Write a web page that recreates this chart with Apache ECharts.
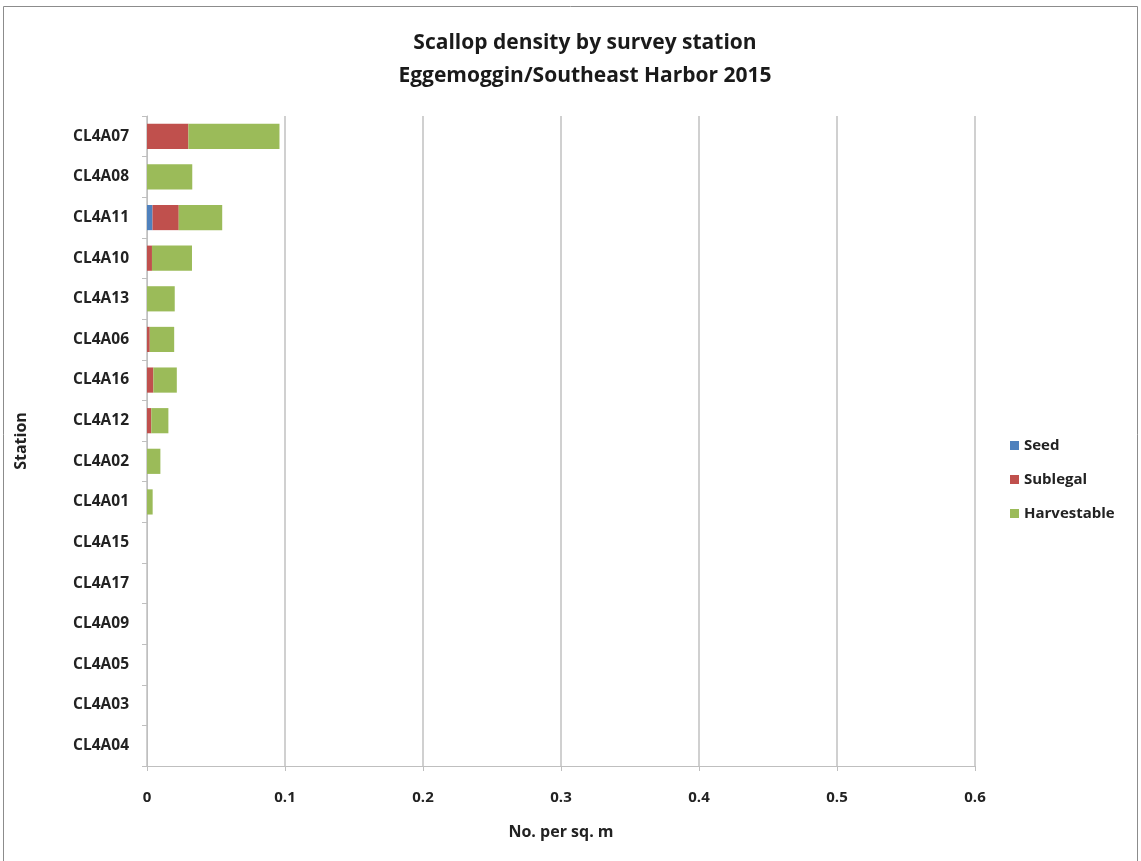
<!DOCTYPE html>
<html><head><meta charset="utf-8">
<script src="https://cdn.jsdelivr.net/npm/echarts@6/dist/echarts.min.js"></script>
<style>html,body{margin:0;padding:0;background:#fff}#c{width:1141px;height:861px}</style>
</head><body><div id="c"></div>
<script>
const stations = ['CL4A07','CL4A08','CL4A11','CL4A10','CL4A13','CL4A06','CL4A16','CL4A12','CL4A02','CL4A01','CL4A15','CL4A17','CL4A09','CL4A05','CL4A03','CL4A04'];
const seed =        [0,     0,      0.004, 0,      0,      0,      0,      0,      0,      0,      0,0,0,0,0,0];
const sublegal =    [0.030, 0,      0.019, 0.0036, 0,      0.002,  0.0046, 0.0031, 0,      0,      0,0,0,0,0,0];
const harvestable = [0.066, 0.0328, 0.0315,0.029,  0.0201, 0.0177, 0.017,  0.0124, 0.0097, 0.0041, 0,0,0,0,0,0];
const xTicks = [0, 0.1, 0.2, 0.3, 0.4, 0.5, 0.6];

const font = 'Open Sans';
const chart = echarts.init(document.getElementById('c'));
chart.setOption({
  animation: false,
  backgroundColor: '#fff',
  textStyle: { fontFamily: font },
  title: {
    text: 'Scallop density by survey station\nEggemoggin/Southeast Harbor 2015',
    left: 580, top: 22, textAlign: 'center',
    textStyle: { fontFamily: font, fontSize: 21, fontWeight: 'bold', color: '#1a1a1a', lineHeight: 33 }
  },
  legend: {
    orient: 'vertical', left: 1005, top: 433, itemGap: 19,
    itemWidth: 9, itemHeight: 9, icon: 'rect',
    textStyle: { fontFamily: font, fontSize: 15, fontWeight: 'bold', color: '#222' },
    data: ['Seed', 'Sublegal', 'Harvestable']
  },
  grid: { left: 147, right: 166, top: 116, bottom: 95, containLabel: false },
  xAxis: {
    type: 'value', min: 0, max: 0.6, interval: 0.1,
    name: 'No. per sq. m', nameLocation: 'middle', nameGap: 58,
    nameTextStyle: { fontFamily: font, fontSize: 16, fontWeight: 'bold', color: '#222' },
    axisLine: { show: true, lineStyle: { color: '#bfbfbf', width: 1 } },
    axisTick: { show: true, length: 5, lineStyle: { color: '#bfbfbf' } },
    axisLabel: { fontFamily: font, fontSize: 15, fontWeight: 'bold', color: '#222', margin: 24,
      formatter: v => xTicks.includes(Math.round(v*10)/10) ? String(Math.round(v*10)/10) : '' },
    splitLine: { show: true, lineStyle: { color: '#d0d0d0', width: 2 } }
  },
  yAxis: {
    type: 'category', data: stations, inverse: true,
    name: 'Station', nameLocation: 'middle', nameGap: 118, nameRotate: 90,
    nameTextStyle: { fontFamily: font, fontSize: 16, fontWeight: 'bold', color: '#222' },
    axisLine: { show: true, lineStyle: { color: '#bfbfbf', width: 1 } },
    axisTick: { show: true, length: 5, lineStyle: { color: '#bfbfbf' } },
    axisLabel: { fontFamily: font, fontSize: 15.5, fontWeight: 'bold', color: '#222', margin: 18 }
  },
  series: [
    { name: 'Seed', type: 'bar', stack: 's', data: seed, barCategoryGap: '38%', itemStyle: { color: '#4f81bd' } },
    { name: 'Sublegal', type: 'bar', stack: 's', data: sublegal, itemStyle: { color: '#c0504d' } },
    { name: 'Harvestable', type: 'bar', stack: 's', data: harvestable, itemStyle: { color: '#9bbb59' } }
  ],
  graphic: [{ type: 'rect', shape: { x: 3.5, y: 6.5, width: 1134, height: 860 }, style: { fill: 'none', stroke: '#8c8c8c', lineWidth: 1 }, silent: true }]
});
</script></body></html>
